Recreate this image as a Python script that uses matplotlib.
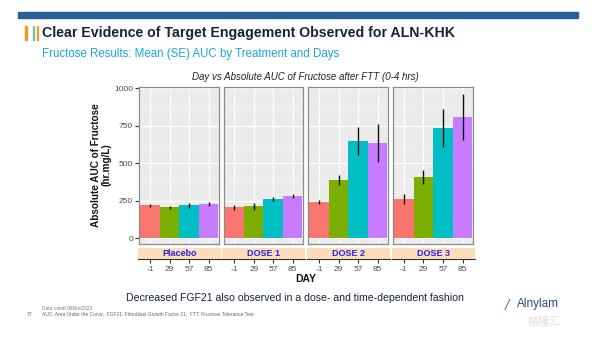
import numpy as np
import matplotlib.pyplot as plt
from matplotlib.patches import Rectangle

plt.rcParams['font.family'] = ['Liberation Sans', 'DejaVu Sans', 'Noto Sans CJK SC']

# データ (Fructose AUC 平均値とSE)
days = ['-1', '29', '57', '85']
groups = ['Placebo', 'DOSE 1', 'DOSE 2', 'DOSE 3']
auc_placebo = [220, 207, 220, 229]
auc_dose1 = [207, 213, 262, 282]
auc_dose2 = [242, 389, 649, 636]
auc_dose3 = [262, 409, 736, 809]
se_placebo = [11, 11, 17, 11]
se_dose1 = [18, 24, 14, 13]
se_dose2 = [15, 35, 91, 124]
se_dose3 = [33, 44, 127, 153]
yticks = [0, 250, 500, 750, 1000]

auc_all = [auc_placebo, auc_dose1, auc_dose2, auc_dose3]
se_all = [se_placebo, se_dose1, se_dose2, se_dose3]
day_colors = ['#F8766D', '#7CAE00', '#00BFC4', '#C77CFF']

W, H = 592, 338
fig = plt.figure(figsize=(W / 100, H / 100), dpi=100)

def px(x0, y0, x1, y1):
    # ピクセル座標 -> figure座標
    return [x0 / W, 1 - y1 / H, (x1 - x0) / W, (y1 - y0) / H]

# ヘッダー
fig.patches.append(Rectangle((18 / W, 1 - 18 / H), 560 / W, 6 / H, transform=fig.transFigure,
                             color='#2B5F97', zorder=0))
for xb, cb in zip([25, 32.5, 36.5], ['#F39A2B', '#6CC5A6', '#F39A2B']):
    fig.patches.append(Rectangle((xb / W, 1 - 40 / H), 1.6 / W, 14 / H, transform=fig.transFigure,
                                 color=cb))
fig.text(42 / W, 1 - 33 / H, 'Clear Evidence of Target Engagement Observed for ALN-KHK',
         fontsize=10.2, fontweight='bold', color='#14243F', va='center')
fig.text(42 / W, 1 - 54 / H, 'Fructose Results: Mean (SE) AUC by Treatment and Days',
         fontsize=8.3, color='#1BA3E0', va='center')

# グラフ本体
panel_x = [(139.3, 219.3), (223.7, 303.3), (308.3, 388.3), (393, 473.3)]
xpos = np.arange(1, 5)
for i, (x0, x1) in enumerate(panel_x):
    ax = fig.add_axes(px(x0, 87.3, x1, 244))
    ax.set_facecolor('#EBEBEB')
    ax.set_ylim(-38, 1007)
    ax.set_xlim(0.45, 4.55)
    ax.set_yticks(yticks)
    ax.set_yticks([125, 375, 625, 875], minor=True)
    ax.set_xticks(xpos)
    ax.grid(True, which='major', color='white', linewidth=0.9)
    ax.grid(True, which='minor', axis='y', color='#F5F5F5', linewidth=0.5)
    ax.set_axisbelow(True)
    ax.bar(xpos, auc_all[i], width=1.0, color=day_colors, zorder=2)
    ax.errorbar(xpos, auc_all[i], yerr=se_all[i], fmt='none', ecolor='#111111',
                elinewidth=1.0, capsize=0, zorder=3)
    for s in ax.spines.values():
        s.set_color('#8C8C8C')
        s.set_linewidth(0.9)
    ax.tick_params(axis='x', length=0, labelbottom=False)
    ax.tick_params(which='minor', length=0)
    if i == 0:
        ax.set_yticklabels([str(t) for t in yticks])
        ax.tick_params(axis='y', length=3, width=0.8, color='#333333', labelsize=6,
                       labelcolor='#4D4D4D', pad=1.5)
    else:
        ax.tick_params(axis='y', length=0, labelleft=False)

    # ストリップ (下側)
    st = fig.add_axes(px(x0 - 1.5, 247.5, x1 + 1.5, 259.3))
    st.set_facecolor('#FDDCBA')
    st.set_xlim(0.45 - 1.5 / 19.5, 4.55 + 1.5 / 19.5)
    st.set_ylim(0, 1)
    for k in ['top', 'left', 'right']:
        st.spines[k].set_visible(False)
    st.spines['bottom'].set_color('#333333')
    st.spines['bottom'].set_linewidth(0.8)
    st.set_yticks([])
    st.set_xticks(xpos)
    st.set_xticklabels(days)
    st.tick_params(axis='x', length=3, width=0.8, color='#333333', labelsize=6,
                   labelcolor='#4D4D4D', pad=1.5)
    st.text(0.5, 0.5, groups[i], transform=st.transAxes, ha='center', va='center',
            fontsize=6.5, fontweight='bold', color='#2525F0')

fig.text(305 / W, 1 - 77 / H, 'Day vs Absolute AUC of Fructose after FTT (0-4 hrs)',
         fontsize=7, style='italic', color='#222222', ha='center', va='center')
fig.text(101 / W, 1 - 165 / H, 'Absolute AUC of Fructose\n(hr.mg/L)', rotation=90,
         fontsize=7.2, fontweight='bold', color='#111111', ha='center', va='center',
         linespacing=1.1)
fig.text(306 / W, 1 - 279 / H, 'DAY', fontsize=7.5, fontweight='bold', color='#111111',
         ha='center', va='center')

# フッター
fig.text(295 / W, 1 - 298 / H, 'Decreased FGF21 also observed in a dose- and time-dependent fashion',
         fontsize=7.6, color='#14243F', ha='center', va='center')
fig.text(42 / W, 1 - 308 / H, 'Data cutoff 06Nov2023', fontsize=3.5, color='#777777', va='center')
fig.text(27 / W, 1 - 314 / H, '77', fontsize=3.8, color='#555555', va='center')
fig.text(42 / W, 1 - 314 / H, 'AUC: Area Under the Curve;  FGF21: Fibroblast Growth Factor 21;  FTT: Fructose Tolerance Test',
         fontsize=3.5, color='#666666', va='center')
fig.text(505 / W, 1 - 306 / H, '/', fontsize=11, color='#3A86C8', va='center', style='italic')
fig.text(517 / W, 1 - 304 / H, 'Alnylam', fontsize=8.5, color='#2E4E7E', va='center')
fig.text(544 / W, 1 - 322 / H, '格隆汇', fontsize=8, color='#DDDDDD', va='center', ha='center',
         family=['Noto Sans CJK SC'])

fig.savefig('out.png', dpi=100)
